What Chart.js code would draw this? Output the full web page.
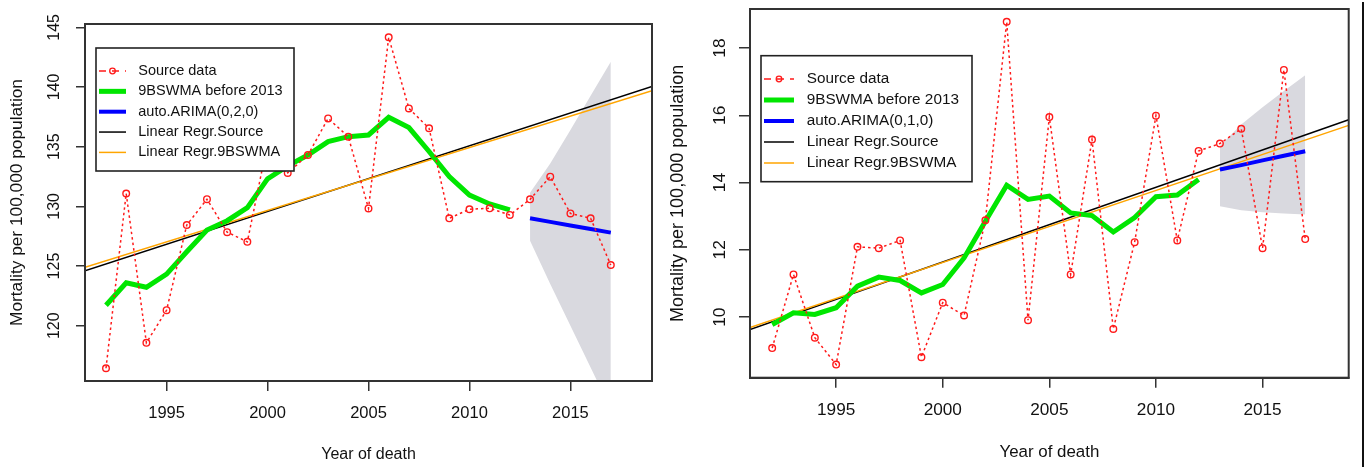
<!DOCTYPE html>
<html lang="en">
<head>
  <meta charset="UTF-8" />
  <title>Mortality per 100,000 population</title>
  <script src="https://cdn.jsdelivr.net/npm/chart.js"></script>
  <style>
    body { margin:0; background:#fff; width:1365px; height:469px; overflow:hidden; position:relative; }
    canvas { position:absolute; top:0; }
    #leftChart { left:0; }
    #rightChart { left:660px; }
    .edge { position:absolute; left:1362px; top:2px; width:2px; height:465px; background:#111; }
  </style>
</head>
<body>
  <canvas id="leftChart" width="660" height="469"></canvas>
  <canvas id="rightChart" width="705" height="469"></canvas>
  <div class="edge"></div>

  <script>
    const FONT = '"Liberation Sans", Arial, sans-serif';

    // shared axes
    const years = [1992, 1993, 1994, 1995, 1996, 1997, 1998, 1999, 2000, 2001, 2002, 2003, 2004,
                   2005, 2006, 2007, 2008, 2009, 2010, 2011, 2012, 2013, 2014, 2015, 2016, 2017];
    const smoothYears = [1992, 1993, 1994, 1995, 1996, 1997, 1998, 1999, 2000, 2001, 2002,
                         2003, 2004, 2005, 2006, 2007, 2008, 2009, 2010, 2011, 2012];
    const forecastYears = [2013, 2014, 2015, 2016, 2017];
    const regrYears = [1990.96, 2019.04];
    const xTicks = [1995, 2000, 2005, 2010, 2015];

    // left panel
    const leftSource = [116.44, 131.08, 118.57, 121.3, 128.44, 130.6, 127.84, 127.03, 135.3, 132.8, 134.3, 137.37, 135.84,
                        129.83, 144.16, 138.21, 136.54, 129.0, 129.76, 129.84, 129.28, 130.59, 132.49, 129.41, 129.0, 125.09];
    const leftSmooth = [121.72, 123.6, 123.22, 124.32, 126.2, 128.02, 128.8, 129.9, 132.3, 133.4, 134.3,
                        135.42, 135.84, 135.98, 137.46, 136.6, 134.6, 132.5, 130.95, 130.2, 129.7];
    const leftArima = [129.0, 128.7, 128.4, 128.1, 127.8];
    const leftUpper = [131.15, 133.6, 136.4, 139.27, 142.12];
    const leftLower = [127.13, 123.5, 120.0, 116.5, 113.0];
    const leftRegrSource = [124.6, 140.05];
    const leftRegrSmooth = [124.9, 139.7];
    const leftYTicks = [120, 125, 130, 135, 140, 145];

    // right panel
    const rightSource = [9.08, 11.27, 9.39, 8.59, 12.09, 12.05, 12.28, 8.81, 10.43, 10.05, 12.88, 18.78, 9.91,
                         15.95, 11.27, 15.28, 9.65, 12.23, 15.99, 12.28, 14.94, 15.16, 15.6, 12.05, 17.35, 12.32];
    const rightSmooth = [9.78, 10.13, 10.08, 10.28, 10.92, 11.19, 11.09, 10.72, 10.97, 11.76, 12.85,
                         13.92, 13.5, 13.6, 13.1, 13.02, 12.53, 12.96, 13.58, 13.63, 14.09];
    const rightArima = [14.39, 14.52, 14.66, 14.8, 14.93];
    const rightUpper = [15.09, 15.73, 16.24, 16.72, 17.19];
    const rightLower = [13.3, 13.18, 13.12, 13.08, 13.05];
    const rightRegrSource = [9.63, 15.87];
    const rightRegrSmooth = [9.69, 15.7];
    const rightYTicks = [10, 12, 14, 16, 18];

    const RED = '#ff1a1a', GREEN = '#00e600', BLUE = '#0000ff', ORANGE = '#ffa500', BAND = '#d9d9df';

    const pts = (xs, ys) => xs.map((x, i) => ({ x, y: ys[i] }));

    function legendItems(arimaLabel) {
      return [
        { label: 'Source data', color: RED, width: 1.5, dash: [7, 6], point: true },
        { label: '9BSWMA before 2013', color: GREEN, width: 5 },
        { label: arimaLabel, color: BLUE, width: 4 },
        { label: 'Linear Regr.Source', color: '#000', width: 1.5 },
        { label: 'Linear Regr.9BSWMA', color: ORANGE, width: 1.5 }
      ];
    }

    // box, rotated y labels and the R-style legend
    const rDecor = {
      id: 'rDecor',
      afterDatasetsDraw(chart, args, opts) {
        const { ctx, chartArea: a } = chart;
        const y = chart.scales.y;
        ctx.save();
        ctx.strokeStyle = '#333';
        ctx.lineWidth = 2;
        ctx.strokeRect(a.left, a.top, a.right - a.left, a.bottom - a.top);

        ctx.fillStyle = '#111';
        ctx.font = `${opts.tickSize}px ${FONT}`;
        ctx.textAlign = 'center';
        ctx.textBaseline = 'middle';
        opts.yTicks.forEach(v => {
          ctx.save();
          ctx.translate(opts.tickX, y.getPixelForValue(v));
          ctx.rotate(-Math.PI / 2);
          ctx.fillText(String(v), 0, 0);
          ctx.restore();
        });

        const L = opts.legend;
        ctx.fillStyle = '#fff';
        ctx.fillRect(L.x, L.y, L.w, L.h);
        ctx.strokeStyle = '#222';
        ctx.lineWidth = 1.6;
        ctx.strokeRect(L.x, L.y, L.w, L.h);
        ctx.font = `${L.size}px ${FONT}`;
        ctx.textAlign = 'left';
        L.items.forEach((it, i) => {
          const ry = L.row0 + i * L.gap;
          ctx.beginPath();
          ctx.strokeStyle = it.color;
          ctx.lineWidth = it.width;
          ctx.setLineDash(it.dash || []);
          ctx.moveTo(L.s1, ry);
          ctx.lineTo(L.s2, ry);
          ctx.stroke();
          ctx.setLineDash([]);
          if (it.point) {
            ctx.beginPath();
            ctx.lineWidth = 1.3;
            ctx.arc((L.s1 + L.s2) / 2, ry, 2.8, 0, Math.PI * 2);
            ctx.stroke();
          }
          ctx.fillStyle = '#111';
          ctx.fillText(it.label, L.tx, ry);
        });
        ctx.restore();
      }
    };

    function makeChart(id, c) {
      const datasets = [
        { data: pts(years, c.source), borderColor: RED, borderWidth: 1.5, borderDash: [2.5, 3],
          pointRadius: 3.3, pointBorderWidth: 1.4, pointBorderColor: RED, pointBackgroundColor: 'rgba(0,0,0,0)' },
        { data: pts(forecastYears, c.arima), borderColor: BLUE, borderWidth: 4, pointRadius: 0 },
        { data: pts(smoothYears, c.smooth), borderColor: GREEN, borderWidth: 5, pointRadius: 0 },
        { data: pts(regrYears, c.regrSmooth), borderColor: ORANGE, borderWidth: 1.5, pointRadius: 0 },
        { data: pts(regrYears, c.regrSource), borderColor: '#000', borderWidth: 1.5, pointRadius: 0 },
        { data: pts(forecastYears, c.upper), borderWidth: 0, pointRadius: 0, fill: false },
        { data: pts(forecastYears, c.lower), borderWidth: 0, pointRadius: 0, fill: '-1', backgroundColor: BAND }
      ];
      return new Chart(document.getElementById(id), {
        type: 'line',
        data: { datasets },
        plugins: [rDecor],
        options: {
          responsive: false,
          animation: false,
          devicePixelRatio: 1,
          events: [],
          layout: { padding: c.padding },
          elements: { line: { tension: 0 } },
          plugins: {
            legend: { display: false },
            tooltip: { enabled: false },
            rDecor: { yTicks: c.yTicks, tickX: c.tickX, tickSize: c.yTickSize, legend: c.legend }
          },
          scales: {
            x: {
              type: 'linear', min: regrYears[0], max: regrYears[1],
              afterBuildTicks: s => { s.ticks = xTicks.map(v => ({ value: v })); },
              afterFit: s => { s.height = c.xHeight; },
              grid: { drawOnChartArea: false, color: '#333', lineWidth: 1.5, tickLength: 10 },
              border: { display: true, color: '#333', width: 2 },
              ticks: { font: { family: FONT, size: c.xTickSize }, color: '#111', padding: c.xTickPad,
                       maxRotation: 0, autoSkip: false, callback: v => String(v) },
              title: { display: true, text: 'Year of death', color: '#111',
                       font: { family: FONT, size: c.xTitleSize }, padding: { top: 0, bottom: c.xTitlePad } }
            },
            y: {
              type: 'linear', min: c.yMin, max: c.yMax,
              afterBuildTicks: s => { s.ticks = c.yTicks.map(v => ({ value: v })); },
              afterFit: s => { s.width = c.yWidth; },
              grid: { drawOnChartArea: false, color: '#333', lineWidth: 1.5, tickLength: c.yTickLen },
              border: { display: true, color: '#333', width: 2 },
              ticks: { display: false },
              title: { display: true, text: 'Mortality per 100,000 population', color: '#111',
                       font: { family: FONT, size: c.yTitleSize }, padding: { top: c.yTitlePad, bottom: 0 } }
            }
          }
        }
      });
    }

    makeChart('leftChart', {
      source: leftSource, smooth: leftSmooth, arima: leftArima, upper: leftUpper, lower: leftLower,
      regrSource: leftRegrSource, regrSmooth: leftRegrSmooth, yTicks: leftYTicks,
      yMin: 115.37, yMax: 145.28,
      padding: { top: 24, right: 8, left: 0, bottom: 0 }, yWidth: 85, xHeight: 88,
      tickX: 55, yTickSize: 16, yTickLen: 9, xTickSize: 16.5, xTickPad: 12.4,
      xTitleSize: 16, xTitlePad: 4.4, yTitleSize: 17.3, yTitlePad: 6.9,
      legend: { x: 96, y: 48, w: 198, h: 123, row0: 71, gap: 20.35, s1: 99, s2: 126, tx: 138.3, size: 14.5,
                items: legendItems('auto.ARIMA(0,2,0)') }
    });

    makeChart('rightChart', {
      source: rightSource, smooth: rightSmooth, arima: rightArima, upper: rightUpper, lower: rightLower,
      regrSource: rightRegrSource, regrSmooth: rightRegrSmooth, yTicks: rightYTicks,
      yMin: 8.2, yMax: 19.16,
      padding: { top: 9, right: 16.3, left: 0, bottom: 0 }, yWidth: 90, xHeight: 91.3,
      tickX: 60, yTickSize: 17.4, yTickLen: 11, xTickSize: 17.2, xTickPad: 12.7,
      xTitleSize: 16.9, xTitlePad: 6.2, yTitleSize: 18, yTitlePad: 7.5,
      legend: { x: 101, y: 55.7, w: 211, h: 126, row0: 79, gap: 21, s1: 104, s2: 134, tx: 146.7, size: 15.3,
                items: legendItems('auto.ARIMA(0,1,0)') }
    });
  </script>
</body>
</html>
